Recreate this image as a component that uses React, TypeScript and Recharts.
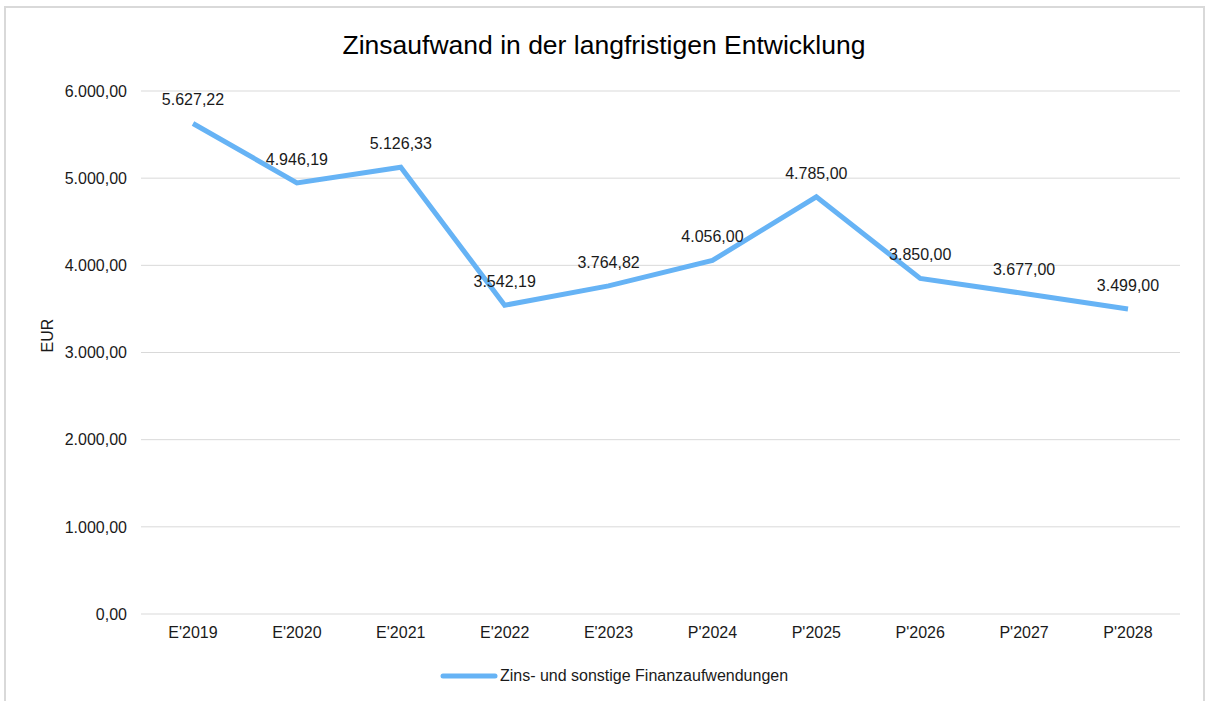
import { LineChart, Line, XAxis, YAxis, CartesianGrid, LabelList } from 'recharts'

const CATEGORIES = ["E'2019", "E'2020", "E'2021", "E'2022", "E'2023", "P'2024", "P'2025", "P'2026", "P'2027", "P'2028"]
const ZINSAUFWAND = [5627.22, 4946.19, 5126.33, 3542.19, 3764.82, 4056.0, 4785.0, 3850.0, 3677.0, 3499.0]
const Y_TICKS = [0, 1000, 2000, 3000, 4000, 5000, 6000]

const SERIES_NAME = 'Zins- und sonstige Finanzaufwendungen'
const LINE_COLOR = '#66B3F5'
const FONT = '"Liberation Sans", Arial, sans-serif'
const TEXT = '#1a1a1a'

const data = CATEGORIES.map((jahr, i) => ({ jahr, wert: ZINSAUFWAND[i] }))

const fmt = (v: number) =>
  v.toLocaleString('de-DE', { minimumFractionDigits: 2, maximumFractionDigits: 2 })

export default function App() {
  return (
    <div style={{ position: 'absolute', left: 0, top: 0, width: 1208, height: 701, background: '#fff', fontFamily: FONT, overflow: 'hidden' }}>
      <div style={{ position: 'absolute', left: 4, top: 6, width: 1201, height: 710, border: '2px solid #d9d9d9', boxSizing: 'border-box' }} />
      <div style={{ position: 'absolute', left: 0, top: 30, width: 1208, textAlign: 'center', fontSize: 26.5, color: '#000' }}>
        Zinsaufwand in der langfristigen Entwicklung
      </div>
      <div style={{ position: 'absolute', left: 0, top: 0 }}>
        <LineChart width={1208} height={701} data={data} margin={{ top: 91, right: 28, left: 61, bottom: 57 }}>
          <CartesianGrid stroke="#d9d9d9" vertical={false} />
          <XAxis
            dataKey="jahr"
            axisLine={false}
            tickLine={false}
            height={30}
            padding={{ left: 52, right: 52 }}
            tick={{ fill: TEXT, fontSize: 16, fontFamily: FONT }}
            tickMargin={7}
          />
          <YAxis
            domain={[0, 6000]}
            ticks={Y_TICKS}
            tickFormatter={fmt}
            axisLine={false}
            tickLine={false}
            width={80}
            tick={{ fill: TEXT, fontSize: 16, fontFamily: FONT }}
            tickMargin={8}
            label={{ value: 'EUR', angle: -90, position: 'insideLeft', offset: -14, fill: TEXT, fontSize: 16, fontFamily: FONT }}
          />
          <Line
            type="linear"
            dataKey="wert"
            name={SERIES_NAME}
            stroke={LINE_COLOR}
            strokeWidth={5}
            dot={false}
            activeDot={false}
            isAnimationActive={false}
          >
            <LabelList dataKey="wert" position="top" offset={18} formatter={(v: any) => fmt(Number(v))} style={{ fill: TEXT, fontSize: 16, fontFamily: FONT }} />
          </Line>
        </LineChart>
      </div>
      <div style={{ position: 'absolute', left: 10, top: 667, width: 1208, display: 'flex', justifyContent: 'center', alignItems: 'center', fontSize: 16, color: TEXT }}>
        <svg width={58} height={10} style={{ marginRight: 2 }}>
          <line x1={3} y1={5} x2={55} y2={5} stroke={LINE_COLOR} strokeWidth={5} strokeLinecap="round" />
        </svg>
        <span>{SERIES_NAME}</span>
      </div>
    </div>
  )
}
